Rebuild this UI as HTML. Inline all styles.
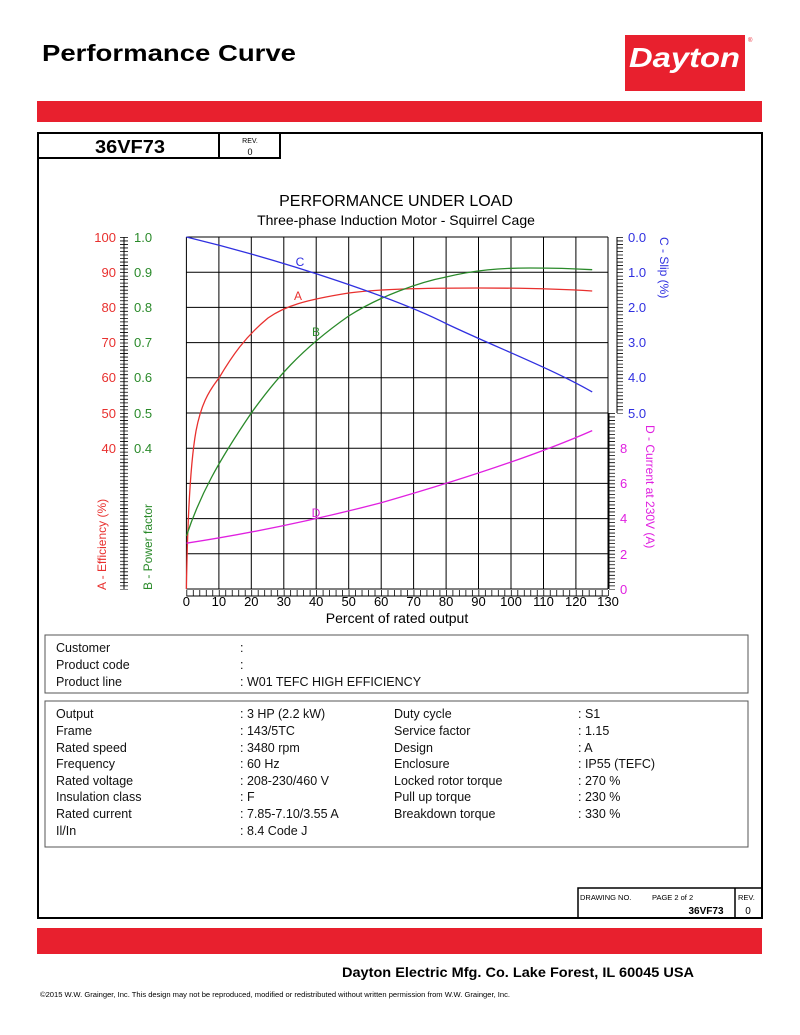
<!DOCTYPE html>
<html><head><meta charset="utf-8"><style>
html,body{margin:0;padding:0;background:#fff}
svg{display:block}
text{font-family:"Liberation Sans",Arial,sans-serif}
</style></head><body>
<svg width="800" height="1035" viewBox="0 0 800 1035" xmlns="http://www.w3.org/2000/svg">
<rect width="800" height="1035" fill="#fff"/>
<!-- header -->
<text x="42" y="61" font-size="23" font-weight="bold" fill="#000" textLength="254" lengthAdjust="spacingAndGlyphs">Performance Curve</text>
<rect x="625" y="35" width="120" height="56" fill="#e8202e"/>
<text x="629" y="67" font-size="28" font-weight="bold" font-style="italic" fill="#fff" textLength="111" lengthAdjust="spacingAndGlyphs">Dayton</text>
<text x="748" y="42" font-size="6" fill="#e8202e">®</text>
<rect x="37" y="101" width="725" height="21" fill="#e8202e"/>
<!-- frame -->
<rect x="38" y="133" width="724" height="785" fill="none" stroke="#000" stroke-width="2"/>
<rect x="38" y="133" width="181" height="25" fill="none" stroke="#000" stroke-width="2"/>
<rect x="219" y="133" width="61" height="25" fill="none" stroke="#000" stroke-width="2"/>
<text x="95" y="153" font-size="18" font-weight="bold" textLength="70" lengthAdjust="spacingAndGlyphs">36VF73</text>
<text x="250" y="143" font-size="7" text-anchor="middle">REV.</text>
<text x="250" y="155" font-size="9" text-anchor="middle">0</text>

<!-- chart titles -->
<text x="396" y="206" font-size="16" text-anchor="middle">PERFORMANCE UNDER LOAD</text>
<text x="396" y="225" font-size="14" text-anchor="middle">Three-phase Induction Motor - Squirrel Cage</text>

<!-- grid -->
<g stroke="#000" stroke-width="1">
<line x1="186.4" y1="237" x2="608" y2="237"/>
<line x1="186.4" y1="272.2" x2="608" y2="272.2"/>
<line x1="186.4" y1="307.4" x2="608" y2="307.4"/>
<line x1="186.4" y1="342.6" x2="608" y2="342.6"/>
<line x1="186.4" y1="377.8" x2="608" y2="377.8"/>
<line x1="186.4" y1="413" x2="608" y2="413"/>
<line x1="186.4" y1="448.2" x2="608" y2="448.2"/>
<line x1="186.4" y1="483.4" x2="608" y2="483.4"/>
<line x1="186.4" y1="518.6" x2="608" y2="518.6"/>
<line x1="186.4" y1="553.8" x2="608" y2="553.8"/>
<line x1="186.4" y1="589" x2="608" y2="589"/>
<line x1="186.4" y1="237" x2="186.4" y2="589"/>
<line x1="218.9" y1="237" x2="218.9" y2="589"/>
<line x1="251.3" y1="237" x2="251.3" y2="589"/>
<line x1="283.8" y1="237" x2="283.8" y2="589"/>
<line x1="316.2" y1="237" x2="316.2" y2="589"/>
<line x1="348.7" y1="237" x2="348.7" y2="589"/>
<line x1="381.2" y1="237" x2="381.2" y2="589"/>
<line x1="413.6" y1="237" x2="413.6" y2="589"/>
<line x1="446.1" y1="237" x2="446.1" y2="589"/>
<line x1="478.5" y1="237" x2="478.5" y2="589"/>
<line x1="511" y1="237" x2="511" y2="589"/>
<line x1="543.5" y1="237" x2="543.5" y2="589"/>
<line x1="575.9" y1="237" x2="575.9" y2="589"/>
<line x1="608" y1="237" x2="608" y2="589"/>
</g>
<!-- tick rulers -->
<g stroke="#000">
<line x1="124" y1="237" x2="124" y2="589.5" stroke-width="8" stroke-dasharray="0.8 2.72"/>
<line x1="124" y1="237" x2="124" y2="589"/>
<line x1="620" y1="237" x2="620" y2="413.5" stroke-width="6" stroke-dasharray="0.8 2.72"/>
<line x1="617" y1="237" x2="617" y2="413"/>
<line x1="612" y1="413" x2="612" y2="589.5" stroke-width="6" stroke-dasharray="0.8 2.72"/>
<line x1="609" y1="413" x2="609" y2="589"/>
<line x1="186.4" y1="593" x2="609" y2="593" stroke-width="6" stroke-dasharray="0.8 5.69"/>
<line x1="186.4" y1="596" x2="608" y2="596"/>
</g>
<!-- left labels -->
<g font-size="13" fill="#e8302e" text-anchor="end">
<text x="116" y="242">100</text><text x="116" y="277">90</text><text x="116" y="312">80</text>
<text x="116" y="347">70</text><text x="116" y="382">60</text><text x="116" y="418">50</text><text x="116" y="453">40</text>
</g>
<g font-size="13" fill="#2a8a2a">
<text x="134" y="242">1.0</text><text x="134" y="277">0.9</text><text x="134" y="312">0.8</text>
<text x="134" y="347">0.7</text><text x="134" y="382">0.6</text><text x="134" y="418">0.5</text><text x="134" y="453">0.4</text>
</g>
<text transform="translate(106,590) rotate(-90)" font-size="12" fill="#e8302e">A - Efficiency (%)</text>
<text transform="translate(152,590) rotate(-90)" font-size="12" fill="#2a8a2a">B - Power factor</text>
<!-- right labels -->
<g font-size="13" fill="#3030e0">
<text x="628" y="242">0.0</text><text x="628" y="277">1.0</text><text x="628" y="312">2.0</text>
<text x="628" y="347">3.0</text><text x="628" y="382">4.0</text><text x="628" y="418">5.0</text>
</g>
<g font-size="13" fill="#e020e0">
<text x="620" y="453">8</text><text x="620" y="488">6</text><text x="620" y="523">4</text>
<text x="620" y="559">2</text><text x="620" y="594">0</text>
</g>
<text transform="translate(660,237) rotate(90)" font-size="12" fill="#3030e0">C - Slip (%)</text>
<text transform="translate(646,425) rotate(90)" font-size="12" fill="#e020e0">D - Current at 230V (A)</text>
<!-- x labels -->
<g font-size="13" text-anchor="middle">
<text x="186.4" y="606">0</text><text x="218.9" y="606">10</text><text x="251.3" y="606">20</text>
<text x="283.8" y="606">30</text><text x="316.2" y="606">40</text><text x="348.7" y="606">50</text>
<text x="381.2" y="606">60</text><text x="413.6" y="606">70</text><text x="446.1" y="606">80</text>
<text x="478.5" y="606">90</text><text x="511" y="606">100</text><text x="543.5" y="606">110</text>
<text x="575.9" y="606">120</text><text x="608" y="606">130</text>
</g>
<text x="397" y="623" font-size="14" text-anchor="middle">Percent of rated output</text>
<!-- curves -->
<g fill="none" stroke-width="1.3" stroke-linejoin="round">
<path stroke="#e8302e" d="M186.4,589 C187.5,520 190,465 196,431 C201,405 208,392 219,378 C232,356 245,337 268,318 C285,306 305,300 348.7,293 C380,289 420,288 480,288 C530,288 560,289 592.2,291"/>
<path stroke="#2a8a2a" d="M186.4,536 C200,495 218,462 251.3,413 C275,380 300,350 348.7,316 C380,296 420,282 446.1,277 C475,270 500,268 530,268 C560,268 580,269 592.2,269.7"/>
<path stroke="#3030e0" d="M186.4,237 C290,262 400,300 446.1,323.6 C500,349 550,368 592.2,391.9"/>
<path stroke="#e020e0" d="M186.4,543.2 C260,532 330,516 381.2,502.8 C450,483 530,458 592.2,430.6"/>
</g>
<text x="298" y="300" font-size="12" fill="#e8302e" text-anchor="middle">A</text>
<text x="316" y="336" font-size="12" fill="#2a8a2a" text-anchor="middle">B</text>
<text x="300" y="266" font-size="12" fill="#3030e0" text-anchor="middle">C</text>
<text x="316" y="517" font-size="12" fill="#e020e0" text-anchor="middle">D</text>

<!-- info tables -->
<rect x="45" y="635" width="703" height="58" fill="none" stroke="#555" stroke-width="1"/>
<rect x="45" y="701" width="703" height="146" fill="none" stroke="#555" stroke-width="1"/>
<g font-size="12.5" fill="#111">
<text x="56" y="652">Customer</text><text x="240" y="652">:</text>
<text x="56" y="669">Product code</text><text x="240" y="669">:</text>
<text x="56" y="686">Product line</text><text x="240" y="686">:  W01 TEFC HIGH EFFICIENCY</text>

<text x="56" y="718">Output</text><text x="240" y="718">:  3 HP (2.2 kW)</text>
<text x="56" y="735">Frame</text><text x="240" y="735">:  143/5TC</text>
<text x="56" y="752">Rated speed</text><text x="240" y="752">:  3480 rpm</text>
<text x="56" y="768">Frequency</text><text x="240" y="768">:  60 Hz</text>
<text x="56" y="785">Rated voltage</text><text x="240" y="785">:  208-230/460 V</text>
<text x="56" y="801">Insulation class</text><text x="240" y="801">:  F</text>
<text x="56" y="818">Rated current</text><text x="240" y="818">:  7.85-7.10/3.55 A</text>
<text x="56" y="835">Il/In</text><text x="240" y="835">:  8.4   Code J</text>

<text x="394" y="718">Duty cycle</text><text x="578" y="718">:  S1</text>
<text x="394" y="735">Service factor</text><text x="578" y="735">:  1.15</text>
<text x="394" y="752">Design</text><text x="578" y="752">:  A</text>
<text x="394" y="768">Enclosure</text><text x="578" y="768">:  IP55 (TEFC)</text>
<text x="394" y="785">Locked rotor torque</text><text x="578" y="785">:  270 %</text>
<text x="394" y="801">Pull up torque</text><text x="578" y="801">:  230 %</text>
<text x="394" y="818">Breakdown torque</text><text x="578" y="818">:  330 %</text>
</g>
<!-- drawing box -->
<rect x="578" y="888" width="184" height="30" fill="none" stroke="#000" stroke-width="1.5"/>
<line x1="735" y1="888" x2="735" y2="918" stroke="#000" stroke-width="1.5"/>
<text x="580" y="900" font-size="7.5">DRAWING NO.</text>
<text x="652" y="900" font-size="7.5">PAGE 2 of 2</text>
<text x="738" y="900" font-size="7.5">REV.</text>
<text x="706" y="914" font-size="10" font-weight="bold" text-anchor="middle">36VF73</text>
<text x="748" y="914" font-size="10" text-anchor="middle">0</text>

<rect x="37" y="928" width="725" height="26" fill="#e8202e"/>
<text x="342" y="977" font-size="13.5" font-weight="bold" textLength="352" lengthAdjust="spacingAndGlyphs">Dayton Electric Mfg. Co.  Lake Forest, IL  60045  USA</text>
<text x="40" y="997" font-size="7" textLength="470" lengthAdjust="spacingAndGlyphs">©2015 W.W. Grainger, Inc.   This design may not be reproduced, modified or redistributed without written permission from W.W. Grainger, Inc.</text>
</svg>
</body></html>
